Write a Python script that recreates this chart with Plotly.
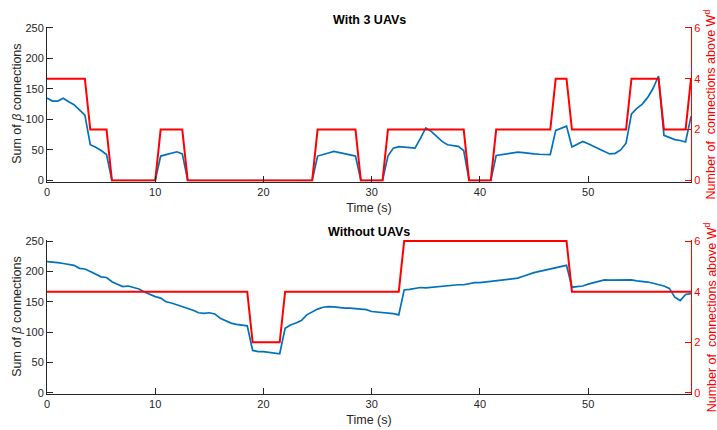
import plotly.graph_objects as go

# Sample times (s)
time_s = [
    0.0, 0.5, 1.0, 1.5, 2.0, 2.5, 3.0, 3.5, 4.0, 4.5,
    5.0, 5.5, 6.0, 6.5, 7.0, 7.5, 8.0, 8.5, 9.0, 9.5,
    10.0, 10.5, 11.0, 11.5, 12.0, 12.5, 13.0, 13.5, 14.0, 14.5,
    15.0, 15.5, 16.0, 16.5, 17.0, 17.5, 18.0, 18.5, 19.0, 19.5,
    20.0, 20.5, 21.0, 21.5, 22.0, 22.5, 23.0, 23.5, 24.0, 24.5,
    25.0, 25.5, 26.0, 26.5, 27.0, 27.5, 28.0, 28.5, 29.0, 29.5,
    30.0, 30.5, 31.0, 31.5, 32.0, 32.5, 33.0, 33.5, 34.0, 34.5,
    35.0, 35.5, 36.0, 36.5, 37.0, 37.5, 38.0, 38.5, 39.0, 39.5,
    40.0, 40.5, 41.0, 41.5, 42.0, 42.5, 43.0, 43.5, 44.0, 44.5,
    45.0, 45.5, 46.0, 46.5, 47.0, 47.5, 48.0, 48.5, 49.0, 49.5,
    50.0, 50.5, 51.0, 51.5, 52.0, 52.5, 53.0, 53.5, 54.0, 54.5,
    55.0, 55.5, 56.0, 56.5, 57.0, 57.5, 58.0, 58.5, 59.0, 59.5,
]

# With 3 UAVs: sum of beta connections (left axis)
beta_sum_uav = [
    135, 130, 130, 134.5, 129, 124, 115.5, 107, 58.5, 54.5,
    49, 42.5, 0, 0, 0, 0, 0, 0, 0, 0,
    0, 40, 42.5, 44.5, 47, 43.5, 0, 0, 0, 0,
    0, 0, 0, 0, 0, 0, 0, 0, 0, 0,
    0, 0, 0, 0, 0, 0, 0, 0, 0, 0,
    40, 42, 45, 47.5, 46, 43.5, 42, 40, 0, 0,
    0, 0, 0, 40, 53, 55.5, 54.5, 54, 53, 69,
    86, 80.5, 72, 64, 58.5, 57, 56, 49, 0, 0,
    0, 0, 0, 41, 42.5, 44, 45.5, 46.5, 45.5, 44,
    43.5, 43, 43, 42.5, 82, 86, 89, 55, 60, 64,
    60, 55.5, 51.5, 47.5, 43.5, 44.5, 50, 61, 109, 118,
    125, 136, 151, 171, 74, 70, 67, 65.5, 63, 105,
]

# With 3 UAVs: number of connections above W^d (right axis)
count_uav = [
    4, 4, 4, 4, 4, 4, 4, 4, 2, 2,
    2, 2, 0, 0, 0, 0, 0, 0, 0, 0,
    0, 2, 2, 2, 2, 2, 0, 0, 0, 0,
    0, 0, 0, 0, 0, 0, 0, 0, 0, 0,
    0, 0, 0, 0, 0, 0, 0, 0, 0, 0,
    2, 2, 2, 2, 2, 2, 2, 2, 0, 0,
    0, 0, 0, 2, 2, 2, 2, 2, 2, 2,
    2, 2, 2, 2, 2, 2, 2, 2, 0, 0,
    0, 0, 0, 2, 2, 2, 2, 2, 2, 2,
    2, 2, 2, 2, 4, 4, 4, 2, 2, 2,
    2, 2, 2, 2, 2, 2, 2, 2, 4, 4,
    4, 4, 4, 4, 2, 2, 2, 2, 2, 4,
]

# Without UAVs: sum of beta connections (left axis)
beta_sum_no_uav = [
    216, 215.5, 214.5, 213, 211, 210, 205, 204, 200, 196,
    191, 190, 183, 179, 175, 176, 174, 171, 166, 162,
    158.5, 156, 150, 148, 145, 142, 140, 136, 132, 131,
    132, 130, 123, 119, 115, 113, 112, 110.5, 70, 68,
    68, 66.5, 65.5, 64.5, 106.5, 112, 115, 119, 128.5, 133.5,
    138, 141, 142, 141.5, 140, 139.5, 139.5, 138.5, 137, 137,
    134, 133, 132.5, 132, 130.5, 128.5, 169.5, 170.5, 172, 173.5,
    173, 174, 174, 175, 176, 177, 178, 178, 180, 181.5,
    181.5, 182.5, 184, 184.5, 185.5, 187, 188, 189, 192, 195.5,
    198, 200, 202, 205, 206, 208, 210, 174, 175, 176,
    179, 181, 183, 186, 185.5, 185.5, 186, 186, 186, 184.5,
    184, 182.5, 180.5, 178, 176, 172, 157.5, 152, 162, 163.5,
]

# Without UAVs: number of connections above W^d (right axis)
count_no_uav = [
    4, 4, 4, 4, 4, 4, 4, 4, 4, 4,
    4, 4, 4, 4, 4, 4, 4, 4, 4, 4,
    4, 4, 4, 4, 4, 4, 4, 4, 4, 4,
    4, 4, 4, 4, 4, 4, 4, 4, 2, 2,
    2, 2, 2, 2, 4, 4, 4, 4, 4, 4,
    4, 4, 4, 4, 4, 4, 4, 4, 4, 4,
    4, 4, 4, 4, 4, 4, 6, 6, 6, 6,
    6, 6, 6, 6, 6, 6, 6, 6, 6, 6,
    6, 6, 6, 6, 6, 6, 6, 6, 6, 6,
    6, 6, 6, 6, 6, 6, 6, 4, 4, 4,
    4, 4, 4, 4, 4, 4, 4, 4, 4, 4,
    4, 4, 4, 4, 4, 4, 4, 4, 4, 4,
]

x_ticks = [0, 10, 20, 30, 40, 50]
left_ticks = [0, 50, 100, 150, 200, 250]
right_ticks = [0, 2, 4, 6]
panel_titles = ["With 3 UAVs", "Without UAVs"]
left_title = "Sum of <i>β</i> connections"
right_title = "Number of\u00a0 connections above W<sup>d</sup>"

BLUE = "#0072BD"
RED = "#FF0000"
DARK = "#262626"
FONT = "Liberation Sans, Arial, Helvetica, sans-serif"
TICK_SIZE = 11
LABEL_SIZE = 12.5

# small padding so lines at the range limits are not clipped (as in MATLAB)
PAD_R = 0.04
PAD_L = PAD_R / 6 * 250

fig = go.Figure()
fig.add_trace(go.Scatter(x=time_s, y=beta_sum_uav, xaxis="x", yaxis="y", mode="lines",
                         line=dict(color=BLUE, width=1.7), showlegend=False))
fig.add_trace(go.Scatter(x=time_s, y=count_uav, xaxis="x", yaxis="y2", mode="lines",
                         line=dict(color=RED, width=2), showlegend=False))
fig.add_trace(go.Scatter(x=time_s, y=beta_sum_no_uav, xaxis="x2", yaxis="y3", mode="lines",
                         line=dict(color=BLUE, width=1.7), showlegend=False))
fig.add_trace(go.Scatter(x=time_s, y=count_no_uav, xaxis="x2", yaxis="y4", mode="lines",
                         line=dict(color=RED, width=2), showlegend=False))

top_dom = [0.5774, 0.998]
bot_dom = [0.0, 0.4185]

def xax(anchor):
    return dict(domain=[0, 1], anchor=anchor, range=[0, 59.5], tickvals=x_ticks,
                ticks="inside", ticklen=6, tickcolor=DARK, showline=True, linecolor=DARK,
                linewidth=1, showgrid=False, zeroline=False, automargin=False,
                tickfont=dict(family=FONT, size=TICK_SIZE, color=DARK),
                title=dict(text="Time (s)", font=dict(family=FONT, size=LABEL_SIZE, color=DARK), standoff=6))

def yleft(dom, anchor):
    return dict(domain=dom, anchor=anchor, range=[-PAD_L, 250 + PAD_L], tickvals=left_ticks,
                ticks="inside", ticklen=6, tickcolor=DARK, showline=True, linecolor=DARK,
                linewidth=1, showgrid=False, zeroline=False, automargin=False,
                tickfont=dict(family=FONT, size=TICK_SIZE, color=DARK))

def yright(overlay, anchor):
    return dict(overlaying=overlay, anchor=anchor, side="right", range=[-PAD_R, 6 + PAD_R],
                tickvals=right_ticks,
                ticks="inside", ticklen=6, tickcolor=RED, showline=True, linecolor=RED,
                linewidth=1, showgrid=False, zeroline=False, automargin=False,
                tickfont=dict(family=FONT, size=TICK_SIZE, color=RED))

def rot_label(text, x, y, color):
    return dict(text=text, x=x, y=y, xref="paper", yref="paper", textangle=-90,
                xanchor="center", yanchor="middle", showarrow=False,
                font=dict(family=FONT, size=LABEL_SIZE, color=color))

def panel_title(text, y):
    return dict(text="<b>" + text + "</b>", x=0.5, y=y, xref="paper", yref="paper",
                xanchor="center", yanchor="middle", showarrow=False,
                font=dict(family=FONT, size=LABEL_SIZE, color="black"))

top_mid = (top_dom[0] + top_dom[1]) / 2
bot_mid = (bot_dom[0] + bot_dom[1]) / 2
X_LEFT_TITLE = -0.047
X_RIGHT_TITLE = 1.030

fig.update_layout(
    width=717, height=430,
    margin=dict(l=47, r=26, t=26, b=36),
    paper_bgcolor="white", plot_bgcolor="white",
    font=dict(family=FONT, color=DARK),
    xaxis=xax("y"),
    yaxis=yleft(top_dom, "x"),
    yaxis2=yright("y", "x"),
    xaxis2=xax("y3"),
    yaxis3=yleft(bot_dom, "x2"),
    yaxis4=yright("y3", "x2"),
    annotations=[
        panel_title(panel_titles[0], 1.0163),
        panel_title(panel_titles[1], 0.4402),
        rot_label(left_title, X_LEFT_TITLE, top_mid, DARK),
        rot_label(left_title, X_LEFT_TITLE, bot_mid, DARK),
        rot_label(right_title, X_RIGHT_TITLE, top_mid, RED),
        rot_label(right_title, X_RIGHT_TITLE, bot_mid, RED),
    ],
)

fig.write_html("out.html", config={"displayModeBar": False},
               post_script="document.body.style.margin='0';document.body.style.overflow='hidden';")
